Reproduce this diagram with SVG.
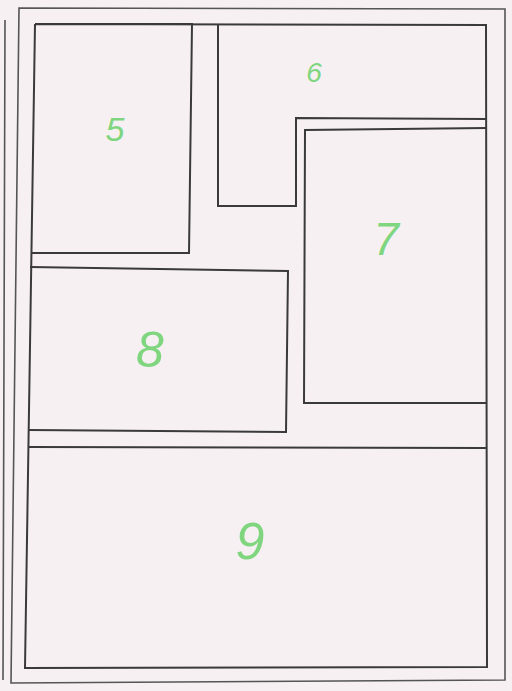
<svg xmlns="http://www.w3.org/2000/svg" width="512" height="691" viewBox="0 0 512 691">
<style>
.w{fill:none;stroke:#3a3a3a;stroke-width:2;stroke-linejoin:miter}
.f{fill:none;stroke:#555;stroke-width:1.6}
.lbl{fill:#7fd67f;font-family:"Liberation Sans",Arial,sans-serif;font-style:italic;text-anchor:middle}
</style>
<rect x="0" y="0" width="512" height="691" fill="#f6f0f3"/>
<g id="frame">
<polyline class="f" points="5,20 4,350 3,680"/>
<polygon class="f" points="19,8 505,9 505,680 11,683"/>
<polyline class="w" points="35,24 486,25 487,667 25,668 35,24"/>
</g>
<g id="room5">
<polyline class="w" points="35,24 192,24 189,253 31,253"/>
<text class="lbl" x="115" y="141" font-size="34">5</text>
</g>
<g id="room6">
<polyline class="w" points="218,24 218,206 296,206 296,118 486,119"/>
<text class="lbl" x="314" y="82" font-size="28">6</text>
</g>
<g id="room7">
<polyline class="w" points="486,128 305,130 304,403 486,403"/>
<text class="lbl" x="386" y="255" font-size="46">7</text>
</g>
<g id="room8">
<polyline class="w" points="30,267 288,271 286,432 29,430"/>
<text class="lbl" x="150" y="367" font-size="50">8</text>
</g>
<g id="room9">
<polyline class="w" points="28,447 486,448"/>
<text class="lbl" x="250" y="559" font-size="52">9</text>
</g>
</svg>
